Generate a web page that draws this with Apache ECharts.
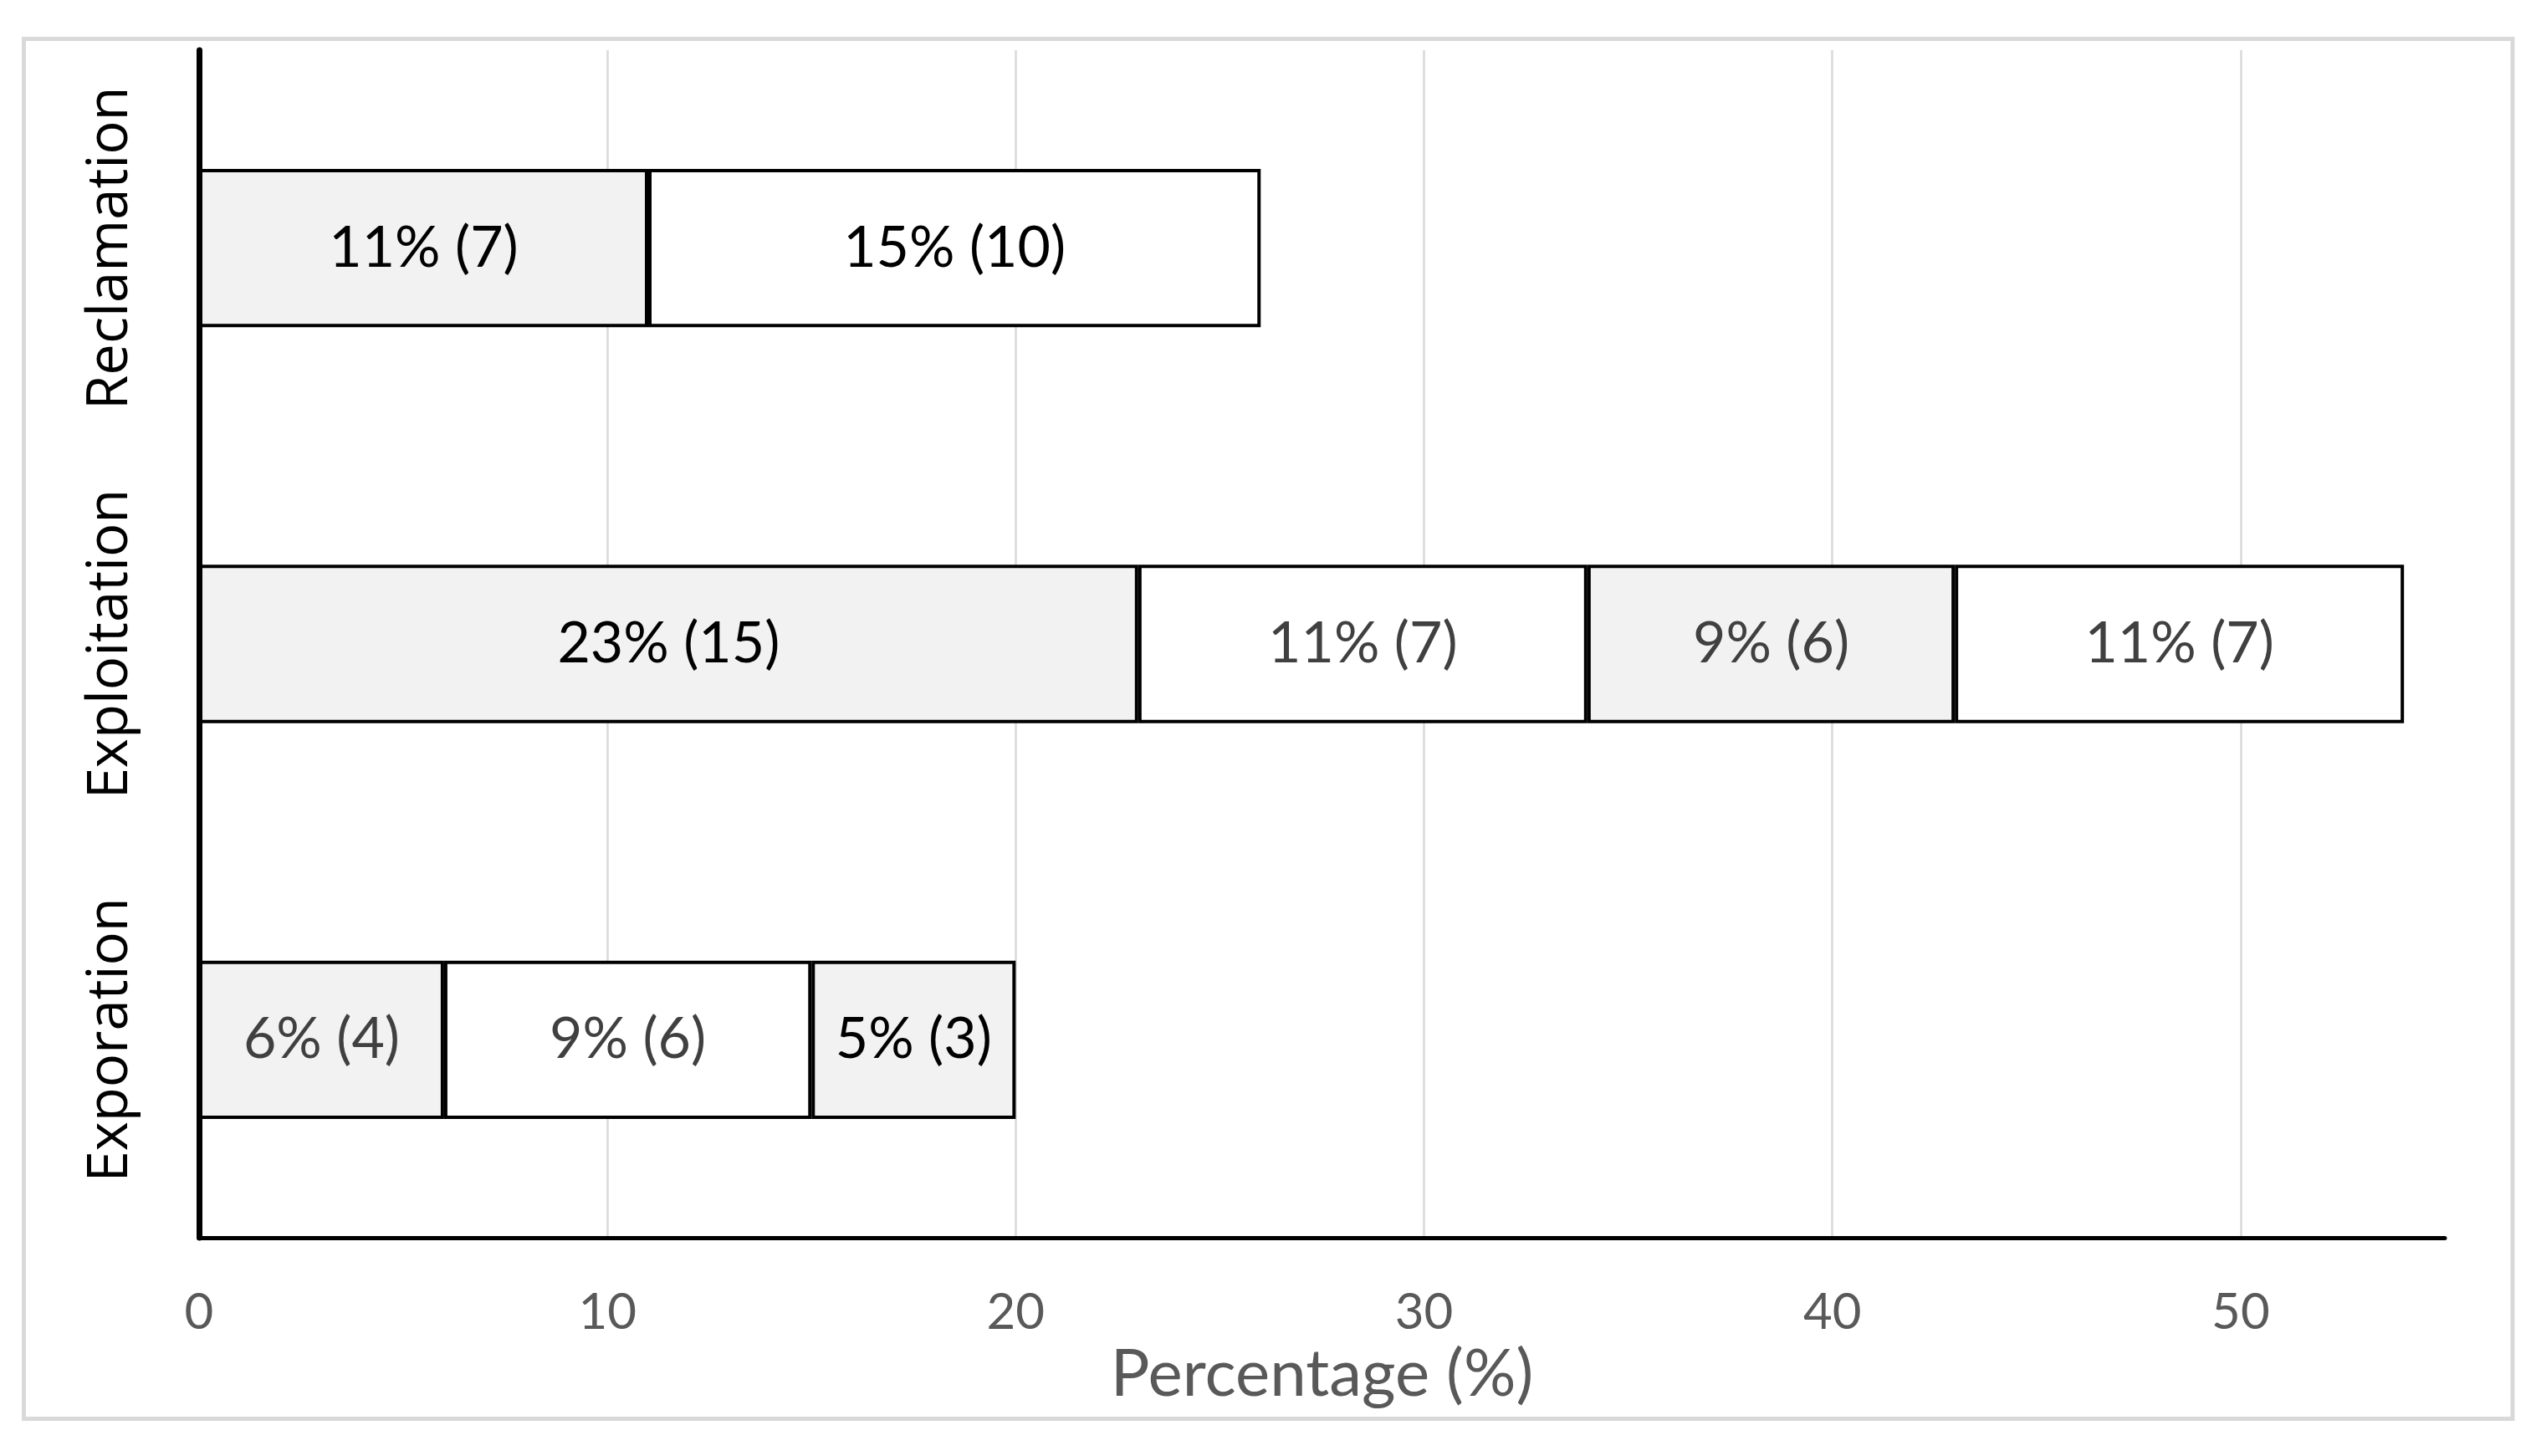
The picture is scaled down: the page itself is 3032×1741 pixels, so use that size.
<!DOCTYPE html>
<html>
<head>
<meta charset="utf-8">
<script src="https://cdn.jsdelivr.net/npm/echarts@6/dist/echarts.min.js"></script>
<style>
html,body{margin:0;padding:0;background:#fff;}
#chart{width:3032px;height:1741px;}
</style>
</head>
<body>
<div id="chart"></div>
<script>
// Categories listed bottom to top
const categories = ['Exporation', 'Exploitation', 'Reclamation'];
// Percentages of each stacked segment
const seg1Pct = [6, 23, 11];
const seg2Pct = [9, 11, 15];
const seg3Pct = [5, 9, null];
const seg4Pct = [null, 11, null];
// Counts shown in brackets
const seg1Count = [4, 15, 7];
const seg2Count = [6, 7, 10];
const seg3Count = [3, 6, null];
const seg4Count = [null, 7, null];
const xTicks = [0, 10, 20, 30, 40, 50];
const xMax = 55;
const xTitle = 'Percentage (%)';

const segPct = [seg1Pct, seg2Pct, seg3Pct, seg4Pct];
const segCount = [seg1Count, seg2Count, seg3Count, seg4Count];

// styling (separate from data)
const fills = ['#f2f2f2', '#ffffff', '#f2f2f2', '#ffffff'];
const darkLabel = { '0-2': true, '1-2': true, '0-1': true, '2-0': true }; // series-category
const labelFont = 'Lato';

const series = segPct.map((arr, s) => ({
  type: 'bar',
  stack: 'total',
  barWidth: '40%',
  itemStyle: { color: fills[s], borderColor: '#000', borderWidth: 4 },
  label: {
    show: true,
    position: 'inside',
    fontFamily: labelFont,
    fontSize: 68,
    formatter: p => p.value + '% (' + segCount[s][p.dataIndex] + ')'
  },
  data: arr.map((v, i) => v == null ? '-' : {
    value: v,
    label: { color: darkLabel[s + '-' + i] ? '#000000' : '#404040' }
  })
}));

const chart = echarts.init(document.getElementById('chart'));
chart.setOption({
  backgroundColor: '#ffffff',
  animation: false,
  grid: { left: 238, right: 109, top: 60, bottom: 261, containLabel: false, outerBoundsMode: 'none' },
  graphic: [{
    type: 'rect',
    shape: { x: 28.5, y: 46.5, width: 2975.5, height: 1650 },
    style: { fill: null, stroke: '#d9d9d9', lineWidth: 5 },
    silent: true, z: -1
  }],
  xAxis: {
    type: 'value',
    min: xTicks[0],
    max: xMax,
    interval: xTicks[1] - xTicks[0],
    name: xTitle,
    nameLocation: 'middle',
    nameGap: 110,
    nameTextStyle: { fontFamily: labelFont, fontSize: 78, color: '#595959' },
    axisLine: { show: true, lineStyle: { color: '#000', width: 5 } },
    axisTick: { show: false },
    axisLabel: { show: true, showMaxLabel: false, fontFamily: labelFont, fontSize: 60, color: '#595959', margin: 60 },
    splitLine: { show: true, showMinLine: false, showMaxLine: false, lineStyle: { color: '#d9d9d9', width: 2.5 } }
  },
  yAxis: {
    type: 'category',
    data: categories,
    axisLine: { show: true, lineStyle: { color: '#000', width: 7 } },
    axisTick: { show: false },
    axisLabel: { interval: 0, hideOverlap: false, rotate: 90, fontFamily: 'Open Sans', fontSize: 67, color: '#000', margin: 72 },
    splitLine: { show: false }
  },
  series: series
});
</script>
</body>
</html>
